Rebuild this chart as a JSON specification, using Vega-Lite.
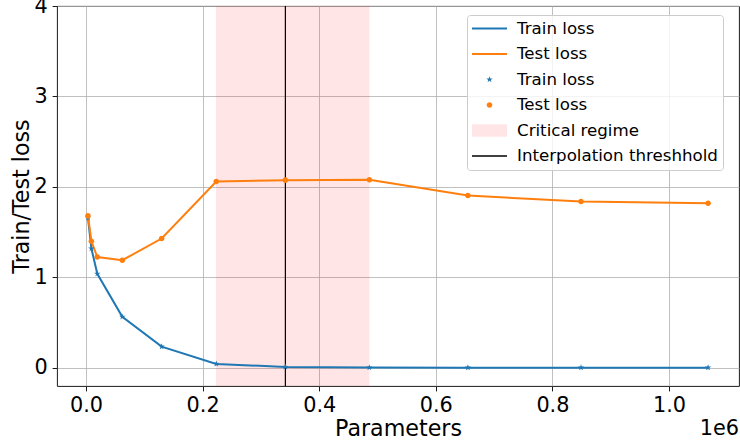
{
  "$schema": "https://vega.github.io/schema/vega-lite/v6.json",
  "width": 682,
  "height": 380,
  "autosize": {"type": "none"},
  "padding": {"left": 57, "top": 6, "right": 1, "bottom": 58},
  "title": {"text": "1e6", "orient": "bottom", "anchor": "end", "frame": "group", "fontSize": 20.8, "fontWeight": "normal", "color": "#000000", "offset": -21, "font": "DejaVu Sans"},
  "datasets": {
    "losses": [
      {"p": 3400, "loss": 1.66, "series": "Train loss", "marker": "Train loss (points)"},
      {"p": 9300, "loss": 1.32, "series": "Train loss", "marker": "Train loss (points)"},
      {"p": 19400, "loss": 1.04, "series": "Train loss", "marker": "Train loss (points)"},
      {"p": 62300, "loss": 0.565, "series": "Train loss", "marker": "Train loss (points)"},
      {"p": 129800, "loss": 0.235, "series": "Train loss", "marker": "Train loss (points)"},
      {"p": 223500, "loss": 0.044, "series": "Train loss", "marker": "Train loss (points)"},
      {"p": 341900, "loss": 0.011, "series": "Train loss", "marker": "Train loss (points)"},
      {"p": 486000, "loss": 0.004, "series": "Train loss", "marker": "Train loss (points)"},
      {"p": 655000, "loss": 0.003, "series": "Train loss", "marker": "Train loss (points)"},
      {"p": 849000, "loss": 0.003, "series": "Train loss", "marker": "Train loss (points)"},
      {"p": 1067000, "loss": 0.003, "series": "Train loss", "marker": "Train loss (points)"},
      {"p": 3400, "loss": 1.68, "series": "Test loss", "marker": "Test loss (points)"},
      {"p": 9300, "loss": 1.40, "series": "Test loss", "marker": "Test loss (points)"},
      {"p": 19400, "loss": 1.225, "series": "Test loss", "marker": "Test loss (points)"},
      {"p": 62300, "loss": 1.19, "series": "Test loss", "marker": "Test loss (points)"},
      {"p": 129800, "loss": 1.43, "series": "Test loss", "marker": "Test loss (points)"},
      {"p": 223500, "loss": 2.06, "series": "Test loss", "marker": "Test loss (points)"},
      {"p": 341900, "loss": 2.075, "series": "Test loss", "marker": "Test loss (points)"},
      {"p": 486000, "loss": 2.08, "series": "Test loss", "marker": "Test loss (points)"},
      {"p": 655000, "loss": 1.905, "series": "Test loss", "marker": "Test loss (points)"},
      {"p": 849000, "loss": 1.84, "series": "Test loss", "marker": "Test loss (points)"},
      {"p": 1067000, "loss": 1.82, "series": "Test loss", "marker": "Test loss (points)"}
    ],
    "regime": [
      {"start": 222900, "end": 486000, "threshold": 342000, "region": "Critical regime", "line": "Interpolation threshhold"}
    ]
  },
  "layer": [
    {
      "data": {"name": "regime"},
      "mark": {"type": "rect"},
      "encoding": {
        "x": {"field": "start", "type": "quantitative",
          "scale": {"domain": [-49700, 1120000], "nice": false, "zero": false},
          "axis": {"title": "Parameters", "values": [0, 200000, 400000, 600000, 800000, 1000000], "labelExpr": "format(datum.value / 1000000, '.1f')"}},
        "x2": {"field": "end"},
        "color": {"field": "region", "type": "nominal",
          "scale": {"domain": ["Train loss", "Test loss", "Train loss (points)", "Test loss (points)", "Critical regime", "Interpolation threshhold"],
                    "range": ["#1f77b4", "#ff7f0e", "#1f77b4", "#ff7f0e", "rgba(255,0,0,0.1)", "#000000"]},
          "legend": {"title": null, "labelExpr": "replace(datum.label, ' (points)', '')",
                     "encode": {"symbols": {"update": {"fill": {"scale": "color", "field": "value"}, "stroke": {"value": "transparent"}, "opacity": {"value": 1}}}}}}
      }
    },
    {
      "data": {"name": "regime"},
      "mark": {"type": "rule", "strokeWidth": 1.2},
      "encoding": {
        "x": {"field": "threshold", "type": "quantitative"},
        "color": {"field": "line", "type": "nominal",
          "scale": {"domain": ["Train loss", "Test loss", "Train loss (points)", "Test loss (points)", "Critical regime", "Interpolation threshhold"],
                    "range": ["#1f77b4", "#ff7f0e", "#1f77b4", "#ff7f0e", "rgba(255,0,0,0.1)", "#000000"]},
          "legend": {"title": null}}
      }
    },
    {
      "data": {"name": "losses"},
      "mark": {"type": "line", "strokeWidth": 2},
      "encoding": {
        "x": {"field": "p", "type": "quantitative"},
        "y": {"field": "loss", "type": "quantitative",
          "scale": {"domain": [-0.2, 4], "nice": false, "zero": false},
          "axis": {"title": "Train/Test loss", "values": [0, 1, 2, 3, 4], "format": "d"}},
        "color": {"field": "series", "type": "nominal",
          "scale": {"domain": ["Train loss", "Test loss", "Train loss (points)", "Test loss (points)", "Critical regime", "Interpolation threshhold"],
                    "range": ["#1f77b4", "#ff7f0e", "#1f77b4", "#ff7f0e", "rgba(255,0,0,0.1)", "#000000"]},
          "legend": {"title": null}}
      }
    },
    {
      "data": {"name": "losses"},
      "mark": {"type": "point", "filled": true, "opacity": 1, "size": 1225},
      "encoding": {
        "x": {"field": "p", "type": "quantitative"},
        "y": {"field": "loss", "type": "quantitative"},
        "color": {"field": "marker", "type": "nominal",
          "scale": {"domain": ["Train loss", "Test loss", "Train loss (points)", "Test loss (points)", "Critical regime", "Interpolation threshhold"],
                    "range": ["#1f77b4", "#ff7f0e", "#1f77b4", "#ff7f0e", "rgba(255,0,0,0.1)", "#000000"]},
          "legend": {"title": null}},
        "shape": {"field": "marker", "type": "nominal",
          "scale": {"domain": ["Train loss", "Test loss", "Train loss (points)", "Test loss (points)", "Critical regime", "Interpolation threshhold"],
                    "range": [
                      "M-1,-0.06H1V0.06H-1Z",
                      "M-1,-0.06H1V0.06H-1Z",
                      "M0,-0.19L0.0441,-0.0607L0.1807,-0.0587L0.0713,0.0232L0.1117,0.1537L0,0.075L-0.1117,0.1537L-0.0713,0.0232L-0.1807,-0.0587L-0.0441,-0.0607Z",
                      "M0.16,0A0.16,0.16,0,1,1,-0.16,0A0.16,0.16,0,1,1,0.16,0Z",
                      "M-1,-0.36H1V0.36H-1Z",
                      "M-1,-0.045H1V0.045H-1Z"
                    ]},
          "legend": {"title": null, "labelExpr": "replace(datum.label, ' (points)', '')",
                     "encode": {"symbols": {"update": {"fill": {"scale": "color", "field": "value"}, "stroke": {"value": "transparent"}, "opacity": {"value": 1}}}}}}
      }
    }
  ],
  "config": {
    "font": "DejaVu Sans",
    "view": {"stroke": "#000000", "strokeWidth": 0.9},
    "axis": {
      "grid": true, "gridColor": "#b0b0b0", "gridWidth": 0.8,
      "domain": false,
      "tickColor": "#000000", "tickSize": 4.9, "tickWidth": 0.9,
      "labelFont": "DejaVu Sans", "labelFontSize": 20.8, "labelColor": "#000000", "labelPadding": 4.9,
      "titleFont": "DejaVu Sans", "titleFontSize": 22.2, "titleFontWeight": "normal", "titleColor": "#000000"
    },
    "axisY": {"titlePadding": 0},
    "axisX": {"titlePadding": 2},
    "legend": {
      "orient": "none", "legendX": 410, "legendY": 9, "padding": 5,
      "fillColor": "rgba(255,255,255,0.8)", "strokeColor": "#cccccc", "cornerRadius": 3,
      "symbolSize": 1225, "symbolStrokeWidth": 0, "symbolOpacity": 1,
      "labelFont": "DejaVu Sans", "labelFontSize": 16.67, "labelColor": "#000000", "labelOffset": 10, "labelLimit": 300,
      "clipHeight": 17, "rowPadding": 7.5
    }
  }
}
